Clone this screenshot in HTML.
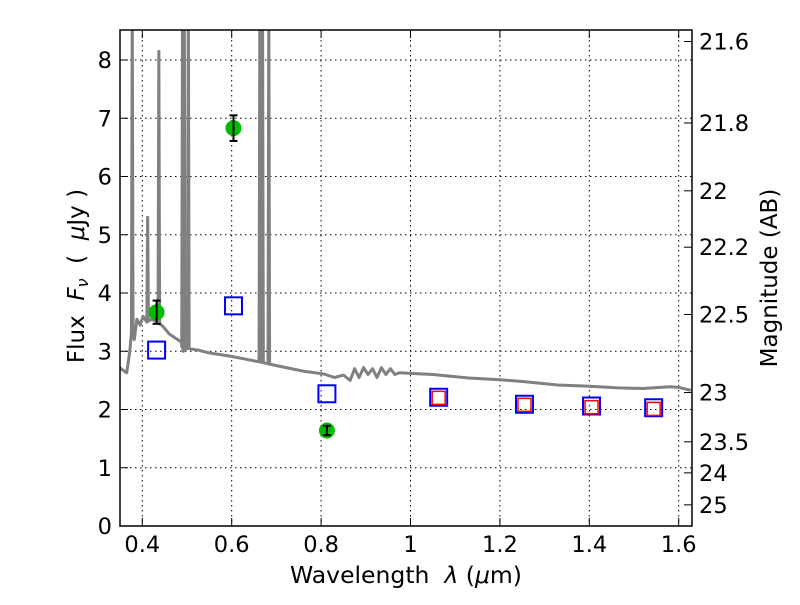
<!DOCTYPE html>
<html><head><meta charset="utf-8"><style>
body{margin:0;background:#fff;}
svg text{font-family:"DejaVu Sans","Liberation Sans",sans-serif;white-space:pre;}
</style></head><body>
<svg width="800" height="600" viewBox="0 0 800 600" xmlns="http://www.w3.org/2000/svg">
<defs><clipPath id="pc"><rect x="120" y="30" width="572" height="496"/></clipPath></defs>
<rect x="0" y="0" width="800" height="600" fill="#fff"/>
<g id="grid"></g>
<g id="spec" clip-path="url(#pc)"></g>
<g id="marks" clip-path="url(#pc)"></g>
<rect x="120" y="30" width="572" height="496" fill="none" stroke="#000" stroke-width="1.5"/>
<g id="axes"></g>
<text x="406" y="583" font-size="23.5" text-anchor="middle">Wavelength  <tspan font-style="italic">λ</tspan> (<tspan font-style="italic">μ</tspan>m)</text>
<text transform="translate(84,276) rotate(-90)" font-size="23" text-anchor="middle">Flux  <tspan font-style="italic">F<tspan font-size="16" dy="4">ν</tspan></tspan><tspan dy="-4">  (  </tspan><tspan font-style="italic">μ</tspan>Jy )</text>
<text transform="translate(777,278) rotate(-90)" font-size="23" text-anchor="middle">Magnitude (AB)</text>
</svg>
<script>
const xTicks=[0.4,0.6,0.8,1.0,1.2,1.4,1.6];
const xTickLabels=["0.4","0.6","0.8","1","1.2","1.4","1.6"];
const yTicks=[0,1,2,3,4,5,6,7,8];
const magTicks=[21.6,21.8,22,22.2,22.5,23,23.5,24,25];
const specLam=[0.347,0.365,0.372,0.376,0.382,0.388,0.395,0.402,0.41,0.42,0.435,0.447,0.46,0.475,0.487,0.492,0.5,0.525,0.55,0.593,0.62,0.66,0.69,0.727,0.76,0.806,0.83,0.85,0.865,0.875,0.885,0.895,0.905,0.915,0.925,0.935,0.945,0.955,0.965,0.975,1.0,1.05,1.13,1.2,1.25,1.33,1.4,1.465,1.52,1.58,1.6,1.627];
const specFlux=[2.73,2.63,3.0,3.35,3.2,3.55,3.45,3.6,3.5,3.55,3.5,3.42,3.3,3.22,3.16,3.0,3.05,3.02,2.97,2.92,2.88,2.82,2.77,2.71,2.66,2.61,2.55,2.59,2.5,2.7,2.55,2.72,2.6,2.7,2.55,2.72,2.6,2.7,2.6,2.63,2.62,2.6,2.54,2.51,2.48,2.42,2.4,2.37,2.36,2.39,2.38,2.33];
const lineLam=[0.3775,0.412,0.437,0.49,0.494,0.503,0.663,0.669,0.683];
const linePeak=[9,5.32,8.17,9,9,9,9,9,9];
const photLam=[0.432,0.604,0.813];
const photFlux=[3.67,6.83,1.64];
const photErr=[0.2,0.22,0.08];
const modelLam=[0.432,0.604,0.813,1.063,1.255,1.405,1.544];
const modelFlux=[3.02,3.78,2.27,2.21,2.09,2.06,2.03];
const irLam=[1.063,1.255,1.405,1.544];
const irFlux=[2.2,2.08,2.04,2.01];

const NS="http://www.w3.org/2000/svg";
const X=l=>142.3+(l-0.4)*447;
const Y=f=>526-f*58.25;
function mk(t,a,p){const e=document.createElementNS(NS,t);for(const k in a)e.setAttribute(k,a[k]);p.appendChild(e);return e;}
const grid=document.getElementById('grid'),axes=document.getElementById('axes'),spec=document.getElementById('spec'),marks=document.getElementById('marks');
xTicks.forEach((v,i)=>{const x=X(v);
 const g=mk('line',{x1:x,x2:x,y1:30,y2:526,stroke:'#000','stroke-dasharray':'1.5,3.5','stroke-width':1},grid);
 
 mk('line',{x1:x,x2:x,y1:526,y2:518,stroke:'#000'},axes);mk('line',{x1:x,x2:x,y1:30,y2:38,stroke:'#000'},axes);
 const t=mk('text',{x:x,y:552,'font-size':22.5,'text-anchor':'middle'},axes);t.textContent=xTickLabels[i];
 });
yTicks.forEach(v=>{const y=Y(v);
 if(v>0){const g=mk('line',{x1:120,x2:692,y1:y,y2:y,stroke:'#000','stroke-dasharray':'1.5,3.5','stroke-width':1},grid);
 }
 mk('line',{x1:120,x2:128,y1:y,y2:y,stroke:'#000'},axes);
 const t=mk('text',{x:112,y:y+8,'font-size':22.5,'text-anchor':'end'},axes);t.textContent=String(v);
 });
magTicks.forEach(m=>{const f=Math.pow(10,(23.9-m)/2.5);const y=Y(f);
 mk('line',{x1:692,x2:684,y1:y,y2:y,stroke:'#000'},axes);
 const t=mk('text',{x:699,y:y+8,'font-size':22.5},axes);t.textContent=String(m);
 });
const pts=specLam.map((l,i)=>X(l).toFixed(1)+','+Y(specFlux[i]).toFixed(1)).join(' ');
const pl=mk('polyline',{points:pts,fill:'none',stroke:'#808080','stroke-width':3,'stroke-linejoin':'round'},spec);

function interp(l){for(let i=0;i<specLam.length-1;i++)if(l>=specLam[i]&&l<=specLam[i+1]){const t=(l-specLam[i])/(specLam[i+1]-specLam[i]);return specFlux[i]+t*(specFlux[i+1]-specFlux[i]);}return specFlux[0];}
lineLam.forEach((l,i)=>{const x=X(l),b=interp(l);
 const p=mk('polyline',{points:`${x-0.8},${Y(b)} ${x},${Y(linePeak[i])} ${x+0.8},${Y(b)}`,fill:'none',stroke:'#808080','stroke-width':3},spec);
 });
modelLam.forEach((l,i)=>{const x=X(l),y=Y(modelFlux[i]);
 const r=mk('rect',{x:x-8.5,y:y-8.5,width:17,height:17,fill:'none',stroke:'#0000ff','stroke-width':2},marks);
 });
irLam.forEach((l,i)=>{const x=X(l),y=Y(irFlux[i]);
 const r=mk('rect',{x:x-6.5,y:y-6.5,width:13,height:13,fill:'none',stroke:'#ff0000','stroke-width':1.5},marks);
 });
photLam.forEach((l,i)=>{const x=X(l),y=Y(photFlux[i]);
 const c=mk('circle',{cx:x,cy:y,r:8,fill:'#00bb00'},marks);
 
 const y1=Y(photFlux[i]+photErr[i]),y2=Y(photFlux[i]-photErr[i]);
 mk('line',{x1:x,x2:x,y1:y1,y2:y2,stroke:'#000','stroke-width':2},marks);
 mk('line',{x1:x-4,x2:x+4,y1:y1,y2:y1,stroke:'#000','stroke-width':2},marks);
 mk('line',{x1:x-4,x2:x+4,y1:y2,y2:y2,stroke:'#000','stroke-width':2},marks);});
</script>
</body></html>
